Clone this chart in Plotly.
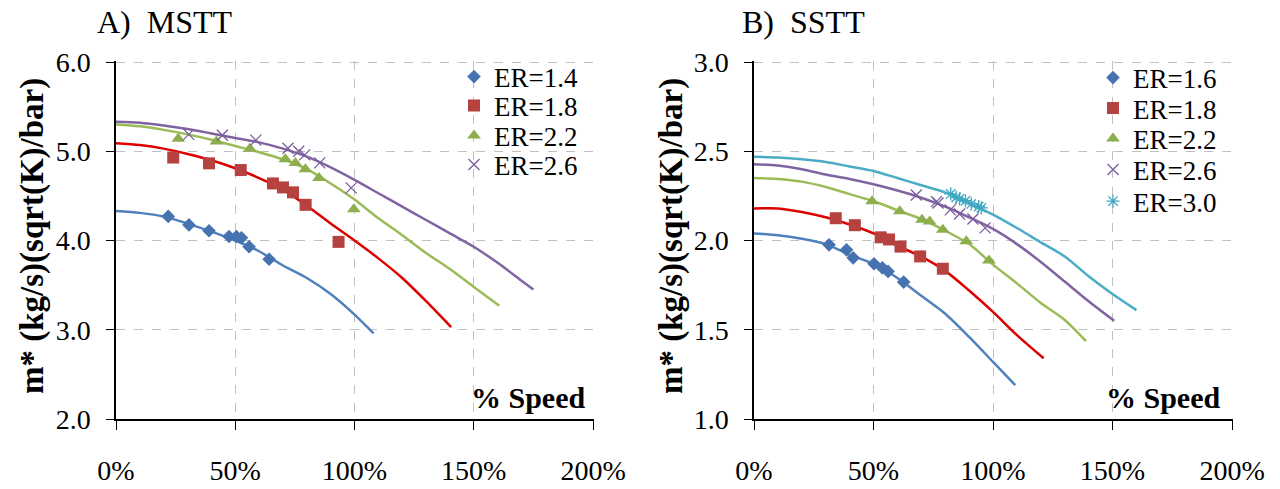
import plotly.graph_objects as go

# ---------------- data: A) MSTT ----------------
mstt_er14_speed = [21.9, 30.6, 39.0, 47.4, 50.5, 52.6, 55.8, 64.2]
mstt_er14_m = [4.27, 4.175, 4.11, 4.045, 4.045, 4.03, 3.93, 3.79]
mstt_er18_speed = [24.0, 39.0, 52.3, 65.8, 70.0, 74.2, 79.5, 93.3]
mstt_er18_m = [4.93, 4.865, 4.79, 4.64, 4.595, 4.54, 4.40, 3.985]
mstt_er22_speed = [26.1, 42.1, 56.1, 71.0, 75.2, 79.4, 85.1, 99.7]
mstt_er22_m = [5.14, 5.11, 5.03, 4.91, 4.87, 4.80, 4.70, 4.35]
mstt_er26_speed = [30.5, 44.6, 58.6, 72.1, 76.6, 79.1, 85.4, 98.6]
mstt_er26_m = [5.19, 5.18, 5.125, 5.035, 5.0, 4.96, 4.87, 4.59]

mstt_l14_speed = [0, 10, 20, 30, 40, 50, 60, 70, 80, 90, 100, 108]
mstt_l14_m = [4.33, 4.31, 4.27, 4.19, 4.10, 4.00, 3.88, 3.72, 3.58, 3.40, 3.17, 2.96]
mstt_l18_speed = [0, 10, 20, 30, 40, 50, 60, 70, 80, 90, 100, 110, 120, 130, 140.5]
mstt_l18_m = [5.09, 5.07, 5.03, 4.97, 4.90, 4.81, 4.70, 4.57, 4.39, 4.19, 4.00, 3.80, 3.58, 3.32, 3.03]
mstt_l22_speed = [0, 10, 20, 30, 40, 50, 60, 70, 80, 90, 100, 110, 120, 130, 140, 150, 160.7]
mstt_l22_m = [5.30, 5.28, 5.24, 5.19, 5.13, 5.06, 4.99, 4.91, 4.80, 4.64, 4.46, 4.25, 4.06, 3.86, 3.68, 3.48, 3.27]
mstt_l26_speed = [0, 10, 20, 30, 40, 50, 60, 70, 80, 90, 100, 110, 120, 130, 140, 150, 160, 170, 175]
mstt_l26_m = [5.33, 5.32, 5.29, 5.25, 5.20, 5.15, 5.10, 5.03, 4.94, 4.82, 4.68, 4.53, 4.38, 4.23, 4.08, 3.93, 3.75, 3.55, 3.45]

# ---------------- data: B) SSTT ----------------
sstt_er16_speed = [31.4, 38.7, 41.5, 50.2, 53.7, 56.1, 62.6]
sstt_er16_m = [1.976, 1.948, 1.903, 1.870, 1.847, 1.827, 1.767]
sstt_er18_speed = [34.2, 42.2, 53.0, 56.5, 61.3, 69.5, 79.0]
sstt_er18_m = [2.125, 2.086, 2.018, 2.006, 1.966, 1.911, 1.842]
sstt_er22_speed = [49.4, 61.0, 70.3, 73.5, 79.0, 88.8, 98.3]
sstt_er22_m = [2.22, 2.164, 2.116, 2.106, 2.061, 1.996, 1.888]
sstt_er26_speed = [67.9, 76.3, 77.0, 82.1, 86.0, 91.6, 96.7]
sstt_er26_m = [2.255, 2.218, 2.21, 2.172, 2.149, 2.121, 2.071]
sstt_er30_speed = [82.3, 84.6, 86.0, 88.5, 90.9, 94.0, 95.1]
sstt_er30_m = [2.261, 2.242, 2.233, 2.223, 2.205, 2.19, 2.183]

sstt_l16_speed = [0, 10, 20, 30, 40, 50, 60, 70, 80, 90, 100, 109.3]
sstt_l16_m = [2.04, 2.03, 2.01, 1.98, 1.92, 1.87, 1.79, 1.69, 1.59, 1.46, 1.32, 1.19]
sstt_l18_speed = [0, 10, 20, 30, 40, 50, 60, 70, 80, 90, 100, 110, 121.2]
sstt_l18_m = [2.18, 2.18, 2.16, 2.13, 2.09, 2.04, 1.97, 1.91, 1.83, 1.72, 1.60, 1.47, 1.34]
sstt_l22_speed = [0, 10, 20, 30, 40, 50, 60, 70, 80, 90, 100, 110, 120, 130, 138.9]
sstt_l22_m = [2.35, 2.345, 2.33, 2.30, 2.26, 2.22, 2.17, 2.12, 2.055, 1.98, 1.865, 1.76, 1.65, 1.555, 1.436]
sstt_l26_speed = [0, 10, 20, 30, 40, 50, 60, 70, 80, 90, 100, 110, 120, 130, 140, 150.7]
sstt_l26_m = [2.428, 2.42, 2.40, 2.37, 2.345, 2.315, 2.28, 2.24, 2.19, 2.13, 2.065, 1.98, 1.88, 1.77, 1.66, 1.55]
sstt_l30_speed = [0, 10, 20, 30, 40, 50, 60, 70, 80, 90, 100, 110, 120, 130, 140, 150, 160]
sstt_l30_m = [2.469, 2.465, 2.455, 2.44, 2.415, 2.39, 2.35, 2.31, 2.27, 2.21, 2.145, 2.07, 1.99, 1.91, 1.80, 1.70, 1.61]

x_tickvals = [0, 50, 100, 150, 200]
x_ticktext = ["0%", "50%", "100%", "150%", "200%"]

W, H = 1280, 489
FONT = "'Liberation Serif', 'Times New Roman', Times, serif"

C_BLUE_M, C_BLUE_L = "#4673b0", "#4f81bd"
C_RED_M, C_RED_L = "#b5423f", "#dd0000"
C_GRN_M, C_GRN_L = "#8cae4c", "#9bbb59"
C_PUR_M, C_PUR_L = "#7a5c9e", "#8064a2"
C_CYN_M, C_CYN_L = "#3fa7c2", "#4bacc6"

fig = go.Figure()

def add_line(xs, ys, color, xa, ya):
    fig.add_trace(go.Scatter(x=xs, y=ys, mode="lines", line=dict(color=color, width=2.5, shape="spline", smoothing=0.8),
                             showlegend=False, hoverinfo="skip", xaxis=xa, yaxis=ya))

def add_pts(xs, ys, name, symbol, color, size, xa, ya, legend, line_w=0):
    mk = dict(symbol=symbol, color=color, size=size)
    if line_w:
        mk["line"] = dict(color=color, width=line_w)
    else:
        mk["line"] = dict(width=0)
    fig.add_trace(go.Scatter(x=xs, y=ys, mode="markers", name=name, marker=mk,
                             xaxis=xa, yaxis=ya, legend=legend))

# left panel
add_line(mstt_l14_speed, mstt_l14_m, C_BLUE_L, "x", "y")
add_line(mstt_l18_speed, mstt_l18_m, C_RED_L, "x", "y")
add_line(mstt_l22_speed, mstt_l22_m, C_GRN_L, "x", "y")
add_line(mstt_l26_speed, mstt_l26_m, C_PUR_L, "x", "y")
add_pts(mstt_er14_speed, mstt_er14_m, "ER=1.4", "diamond", C_BLUE_M, 10.5, "x", "y", "legend")
add_pts(mstt_er18_speed, mstt_er18_m, "ER=1.8", "square", C_RED_M, 12, "x", "y", "legend2")
add_pts(mstt_er22_speed, mstt_er22_m, "ER=2.2", "triangle-up", C_GRN_M, 12, "x", "y", "legend3")
add_pts(mstt_er26_speed, mstt_er26_m, "ER=2.6", "x-thin-open", C_PUR_M, 11, "x", "y", "legend4", line_w=1.3)

# right panel
add_line(sstt_l16_speed, sstt_l16_m, C_BLUE_L, "x2", "y2")
add_line(sstt_l18_speed, sstt_l18_m, C_RED_L, "x2", "y2")
add_line(sstt_l22_speed, sstt_l22_m, C_GRN_L, "x2", "y2")
add_line(sstt_l26_speed, sstt_l26_m, C_PUR_L, "x2", "y2")
add_line(sstt_l30_speed, sstt_l30_m, C_CYN_L, "x2", "y2")
add_pts(sstt_er16_speed, sstt_er16_m, "ER=1.6", "diamond", C_BLUE_M, 10.5, "x2", "y2", "legend5")
add_pts(sstt_er18_speed, sstt_er18_m, "ER=1.8", "square", C_RED_M, 12, "x2", "y2", "legend6")
add_pts(sstt_er22_speed, sstt_er22_m, "ER=2.2", "triangle-up", C_GRN_M, 12, "x2", "y2", "legend7")
add_pts(sstt_er26_speed, sstt_er26_m, "ER=2.6", "x-thin-open", C_PUR_M, 11, "x2", "y2", "legend8", line_w=1.3)
add_pts(sstt_er30_speed, sstt_er30_m, "ER=3.0", "asterisk-open", C_CYN_M, 11, "x2", "y2", "legend9", line_w=1.3)

ytop, ybot = 1 - 61 / H, 1 - 419 / H

def xax(domain, anchor):
    return dict(domain=domain, anchor=anchor, range=[0, 200.4], tickvals=x_tickvals, ticktext=x_ticktext,
                showgrid=True, gridcolor="#c0c0c0", griddash="dash", gridwidth=1,
                showline=True, linecolor="black", linewidth=1.5, ticks="outside", ticklen=9, tickcolor="black",
                tickwidth=1, tickfont=dict(family=FONT, size=28, color="black"), ticklabelstandoff=17,
                zeroline=False, fixedrange=True, automargin=False)

def yax(domain, anchor, rng, dtick):
    return dict(domain=domain, anchor=anchor, range=rng, dtick=dtick, tick0=rng[0], tickformat=".1f",
                showgrid=True, gridcolor="#c0c0c0", griddash="dash", gridwidth=1,
                showline=True, linecolor="black", linewidth=1.5, ticks="outside", ticklen=8, tickcolor="black",
                tickwidth=1, tickfont=dict(family=FONT, size=28, color="black"), ticklabelstandoff=10,
                zeroline=False, fixedrange=True, automargin=False)

layout = dict(
    template="none",
    width=W, height=H, margin=dict(l=0, r=0, t=0, b=0, autoexpand=False),
    paper_bgcolor="white", plot_bgcolor="white",
    font=dict(family=FONT, color="black"),
    xaxis=xax([116 / W, 594 / W], "y"),
    yaxis=yax([ybot, ytop], "x", [2, 6.012], 1),
    xaxis2=xax([754 / W, 1233 / W], "y2"),
    yaxis2=yax([ybot, ytop], "x2", [1, 3.006], 0.5),
    annotations=[
        dict(text="A)\u00a0 MSTT", xref="paper", yref="paper", x=95 / W, y=1 - 22 / H, xanchor="left",
             yanchor="middle", showarrow=False, font=dict(family=FONT, size=32)),
        dict(text="B)\u00a0 SSTT", xref="paper", yref="paper", x=740 / W, y=1 - 22 / H, xanchor="left",
             yanchor="middle", showarrow=False, font=dict(family=FONT, size=32)),
        dict(text="<b>m* (kg/s)(sqrt(K)/bar)</b>", xref="paper", yref="paper", x=32 / W, y=1 - 236 / H,
             textangle=-90, xanchor="center", yanchor="middle", showarrow=False, font=dict(family=FONT, size=33)),
        dict(text="<b>m* (kg/s)(sqrt(K)/bar)</b>", xref="paper", yref="paper", x=671 / W, y=1 - 236 / H,
             textangle=-90, xanchor="center", yanchor="middle", showarrow=False, font=dict(family=FONT, size=33)),
        dict(text="<b>% Speed</b>", xref="x domain", yref="y domain", x=0.988, y=0.06, xanchor="right",
             yanchor="middle", showarrow=False, font=dict(family=FONT, size=30)),
        dict(text="<b>% Speed</b>", xref="x2 domain", yref="y2 domain", x=0.979, y=0.06, xanchor="right",
             yanchor="middle", showarrow=False, font=dict(family=FONT, size=30)),
    ],
)

left_rows = [77, 106, 136, 165]
right_rows = [78, 108.5, 139, 170, 201.5]
leg_common = dict(bgcolor="rgba(0,0,0,0)", borderwidth=0, font=dict(family=FONT, size=27, color="black"),
                  xanchor="left", yanchor="middle", itemclick=False, itemdoubleclick=False)
names = ["legend", "legend2", "legend3", "legend4", "legend5", "legend6", "legend7", "legend8", "legend9"]
for i, r in enumerate(left_rows):
    layout[names[i]] = dict(leg_common, x=454 / W, y=1 - r / H)
for j, r in enumerate(right_rows):
    layout[names[4 + j]] = dict(leg_common, x=1093 / W, y=1 - r / H)

fig.update_layout(**layout)
fig.write_html("out.html")
